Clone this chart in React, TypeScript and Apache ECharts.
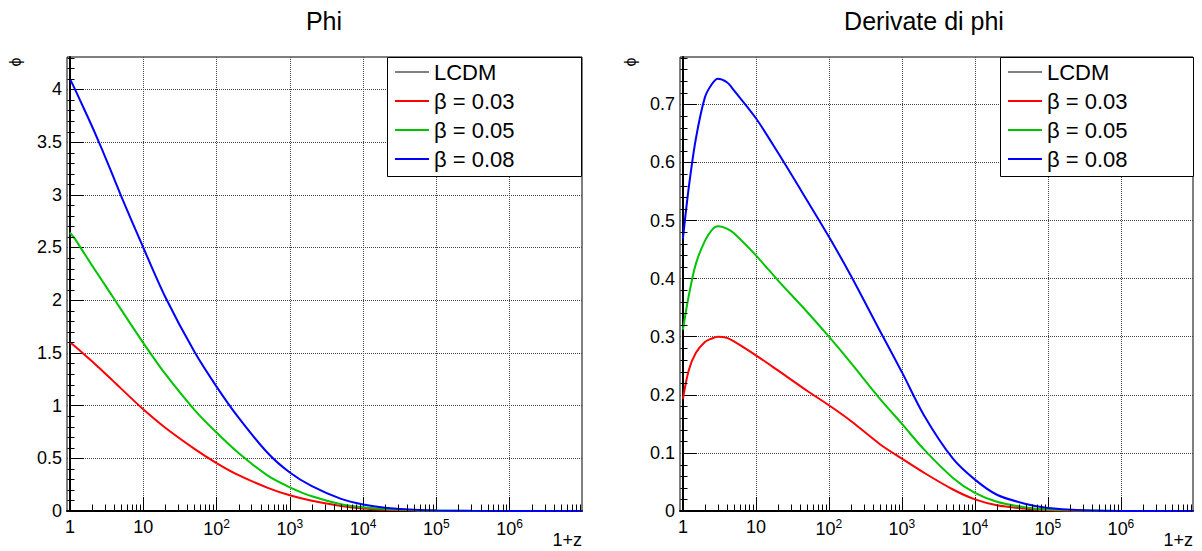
import { useEffect, useRef } from "react";
import * as echarts from "echarts";

const FONT = '"Liberation Sans", Arial, Helvetica, sans-serif';

const seriesNames = ["LCDM", "β = 0.03", "β = 0.05", "β = 0.08"];
const seriesColors = ["#000000", "#ff0000", "#00c400", "#0000ff"];
const legendIconColors = ["#808080", "#ff0000", "#00c400", "#0000ff"];

// 1+z sample points
const onePlusZ = [1, 1.2, 1.5, 2, 2.5, 3, 4, 5, 10, 20, 50, 100, 200, 500, 1e3, 2e3, 5e3, 1e4, 2e4, 5e4, 1e5, 3e5, 1e6, 9.7e6];

// Phi
const phiLCDM = [0, 0, 0, 0, 0, 0, 0, 0, 0, 0, 0, 0, 0, 0, 0, 0, 0, 0, 0, 0, 0, 0, 0, 0];
const phi003 = [1.6, 1.555, 1.497, 1.42, 1.358, 1.307, 1.225, 1.161, 0.965, 0.79, 0.59, 0.455, 0.34, 0.22, 0.149, 0.097, 0.048, 0.023, 0.011, 0.004, 0.0015, 0.0003, 0, 0];
const phi005 = [2.64, 2.57, 2.465, 2.33, 2.228, 2.145, 2.013, 1.91, 1.595, 1.3, 0.96, 0.744, 0.55, 0.335, 0.225, 0.14, 0.065, 0.035, 0.018, 0.007, 0.003, 0.0008, 0, 0];
const phi008 = [4.1, 3.985, 3.84, 3.65, 3.495, 3.365, 3.153, 2.988, 2.5, 2.03, 1.51, 1.18, 0.885, 0.55, 0.365, 0.235, 0.115, 0.062, 0.031, 0.012, 0.005, 0.0013, 0, 0];

// Derivative of phi
const dphiLCDM = [0, 0, 0, 0, 0, 0, 0, 0, 0, 0, 0, 0, 0, 0, 0, 0, 0, 0, 0, 0, 0, 0, 0, 0];
const dphi003 = [0.193, 0.242, 0.272, 0.291, 0.297, 0.3, 0.298, 0.292, 0.268, 0.242, 0.207, 0.182, 0.155, 0.115, 0.09, 0.066, 0.037, 0.02, 0.01, 0.004, 0.0015, 0.0004, 0, 0];
const dphi005 = [0.312, 0.37, 0.425, 0.465, 0.484, 0.49, 0.486, 0.478, 0.44, 0.397, 0.343, 0.3, 0.255, 0.193, 0.15, 0.106, 0.057, 0.031, 0.016, 0.006, 0.0025, 0.0007, 0, 0];
const dphi008 = [0.469, 0.556, 0.64, 0.712, 0.735, 0.744, 0.738, 0.724, 0.676, 0.617, 0.535, 0.472, 0.405, 0.31, 0.239, 0.165, 0.09, 0.054, 0.028, 0.012, 0.005, 0.0013, 0, 0];

// Axis ticks
const xDecades = [0, 1, 2, 3, 4, 5, 6];
const phiTicks = [0, 0.5, 1, 1.5, 2, 2.5, 3, 3.5, 4];
const dphiTicks = [0, 0.1, 0.2, 0.3, 0.4, 0.5, 0.6, 0.7];

const X_MIN = -0.04;
const X_MAX = Math.log10(9.7e6);
const PHI_MAX = 4.307;
const DPHI_MAX = 0.7815;

function expLabel(v: number) {
  const e = Math.round(v);
  if (e === 0) return "1";
  if (e === 1) return "10";
  return `{b|10}{s|${e}}`;
}

function logMinor(maxExp: number) {
  const out: number[] = [];
  for (let d = 0; d < 7; d++)
    for (let k = 2; k <= 9; k++) {
      const v = Math.log10(k) + d;
      if (v < maxExp) out.push(v);
    }
  return out;
}

function linMinor(step: number, max: number, majorStep: number) {
  const out: number[] = [];
  for (let i = 1; i * step < max; i++) {
    const v = +(i * step).toFixed(5);
    const r = v / majorStep;
    if (Math.abs(r - Math.round(r)) > 1e-6) out.push(v);
  }
  return out;
}

function tickSeries(idx: number, yStep: number, yMax: number, yMajor: number) {
  const data = [
    ...logMinor(X_MAX).map((v) => [v, 0, 0]),
    ...linMinor(yStep, yMax, yMajor).map((v) => [X_MIN, v, 1]),
  ];
  return {
    type: "custom",
    xAxisIndex: idx,
    yAxisIndex: idx,
    silent: true,
    clip: false,
    z: 5,
    data,
    renderItem: (_p: any, api: any) => {
      const p = api.coord([api.value(0), api.value(1)]);
      const horiz = api.value(2) === 1;
      const x = Math.round(p[0]) + 0.5;
      const y = Math.round(p[1]) + 0.5;
      return {
        type: "line",
        shape: horiz ? { x1: x, y1: y, x2: x + 7, y2: y } : { x1: x, y1: y, x2: x, y2: y - 7 },
        style: { stroke: "#000", lineWidth: 1 },
      };
    },
  };
}

const labelRich = {
  b: { fontSize: 18, fontFamily: FONT, color: "#000" },
  s: { fontSize: 12, fontFamily: FONT, color: "#000", padding: [0, 0, 10, 0] },
};

const gridLine = { show: true, lineStyle: { color: "#444", width: 1, type: [1, 1] } };

function xAxis(idx: number) {
  return {
    type: "value",
    gridIndex: idx,
    min: X_MIN,
    max: X_MAX,
    axisLine: { show: true, onZero: false, lineStyle: { color: "#000", width: 2 } },
    axisTick: { show: true, inside: true, length: 14, customValues: xDecades, lineStyle: { color: "#000", width: 1 } },
    axisLabel: {
      customValues: xDecades,
      formatter: (v: number) => expLabel(v),
      rich: labelRich,
      fontSize: 18,
      fontFamily: FONT,
      color: "#000",
      margin: 7,
    },
    splitLine: gridLine,
  };
}

function yAxis(idx: number, max: number, ticks: number[]) {
  return {
    type: "value",
    gridIndex: idx,
    min: 0,
    max,
    axisLine: { show: true, lineStyle: { color: "#000", width: 2 } },
    axisTick: { show: true, inside: true, length: 14, customValues: ticks, lineStyle: { color: "#000", width: 1 } },
    axisLabel: { customValues: ticks, fontSize: 18, fontFamily: FONT, color: "#000", margin: 5 },
    splitLine: gridLine,
  };
}

function lineSeries(idx: number, name: string, color: string, values: number[]) {
  return {
    type: "line",
    name,
    xAxisIndex: idx,
    yAxisIndex: idx,
    data: onePlusZ.map((x, i) => [Math.log10(x), values[i]]),
    showSymbol: false,
    smooth: 0.3,
    lineStyle: { color, width: 2 },
    itemStyle: { color },
    z: 3,
  };
}

function legend(left: number) {
  return {
    orient: "vertical",
    left,
    top: 61,
    padding: 0,
    itemGap: 7,
    itemWidth: 34,
    itemHeight: 2,
    icon: "rect",
    z: 20,
    selectedMode: false,
    textStyle: { fontSize: 22, lineHeight: 22, fontFamily: FONT, color: "#000" },
    data: seriesNames.map((n, i) => ({ name: n, itemStyle: { color: legendIconColors[i] } })),
  };
}

export default function App() {
  const ref = useRef<HTMLDivElement>(null);
  useEffect(() => {
    if (!ref.current) return;
    const chart = echarts.init(ref.current, undefined, { renderer: "svg" });
    const phiSets = [phiLCDM, phi003, phi005, phi008];
    const dphiSets = [dphiLCDM, dphi003, dphi005, dphi008];
    const option: any = {
      animation: false,
      backgroundColor: "#fff",
      grid: [
        { left: 67, top: 57, width: 515, height: 454, show: true, borderColor: "#000", borderWidth: 1, backgroundColor: "transparent" },
        { left: 680, top: 57, width: 513, height: 454, show: true, borderColor: "#000", borderWidth: 1, backgroundColor: "transparent" },
      ],
      xAxis: [xAxis(0), xAxis(1)],
      yAxis: [yAxis(0, PHI_MAX, phiTicks), yAxis(1, DPHI_MAX, dphiTicks)],
      legend: [legend(395), legend(1008)],
      series: [
        ...seriesNames.map((n, i) => lineSeries(0, n, seriesColors[i], phiSets[i])),
        ...seriesNames.map((n, i) => lineSeries(1, n, seriesColors[i], dphiSets[i])),
        tickSeries(0, 0.1, PHI_MAX, 0.5),
        tickSeries(1, 0.02, DPHI_MAX, 0.1),
      ],
      graphic: [
        { type: "rect", z: 15, shape: { x: 387.5, y: 57.5, width: 194, height: 119 }, style: { fill: "#fff", stroke: "#000", lineWidth: 1 } },
        { type: "rect", z: 15, shape: { x: 1000.5, y: 57.5, width: 193, height: 119 }, style: { fill: "#fff", stroke: "#000", lineWidth: 1 } },
        { type: "text", z: 20, x: 324, y: 21, style: { text: "Phi", fontSize: 25, fontFamily: FONT, fill: "#000", textAlign: "center", textVerticalAlign: "middle" } },
        { type: "text", z: 20, x: 924, y: 21, style: { text: "Derivate di phi", fontSize: 25, fontFamily: FONT, fill: "#000", textAlign: "center", textVerticalAlign: "middle" } },
        { type: "text", z: 20, x: 15, y: 62, rotation: Math.PI / 2, style: { text: "ϕ", fontSize: 16, fontFamily: FONT, fill: "#000", textAlign: "center", textVerticalAlign: "middle" } },
        { type: "text", z: 20, x: 630, y: 62, rotation: Math.PI / 2, style: { text: "ϕ", fontSize: 16, fontFamily: FONT, fill: "#000", textAlign: "center", textVerticalAlign: "middle" } },
        { type: "text", z: 20, x: 582, y: 540, style: { text: "1+z", fontSize: 18, fontFamily: FONT, fill: "#000", textAlign: "right", textVerticalAlign: "middle" } },
        { type: "text", z: 20, x: 1193, y: 540, style: { text: "1+z", fontSize: 18, fontFamily: FONT, fill: "#000", textAlign: "right", textVerticalAlign: "middle" } },
      ],
    };
    chart.setOption(option);
    return () => chart.dispose();
  }, []);
  return <div ref={ref} style={{ position: "absolute", left: 0, top: 0, width: 1202, height: 551 }} />;
}
